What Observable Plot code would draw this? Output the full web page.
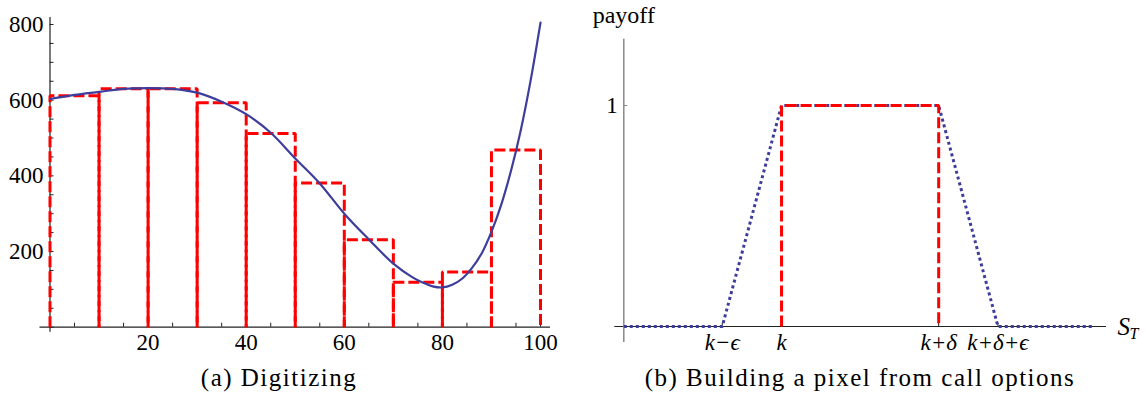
<!DOCTYPE html>
<html><head><meta charset="utf-8">
<script src="https://cdn.jsdelivr.net/npm/d3@7"></script>
<script src="https://cdn.jsdelivr.net/npm/@observablehq/plot@0.6"></script>
<style>
body{margin:0;background:#fff;}
#wrap{position:relative;width:1146px;height:393px;font-family:"Liberation Serif","Times New Roman",serif;color:#000;overflow:hidden;}
#wrap svg{position:absolute;top:0;}
#wrap svg text{font-family:"Liberation Serif","Times New Roman",serif;}
.cap{position:absolute;top:365px;font-size:25px;line-height:25px;letter-spacing:1.5px;white-space:nowrap;transform:translateX(-50%);}
</style></head><body><div id="wrap"></div>
<script>
// ---- Panel (a): digitizing ----
const binStarts = [0, 10, 20, 30, 40, 50, 60, 70, 80, 90];
const binEnds = [10, 20, 30, 40, 50, 60, 70, 80, 90, 100];
const binHeights = [612, 630, 630, 593, 512, 381, 231, 119, 146, 468];
const curveX = [0, 5, 10, 15, 20, 25, 30, 35, 40, 45, 50, 55, 60, 65, 70, 74, 76, 78, 80, 82, 84, 86, 88, 90, 92, 94, 96, 98, 100];
const curveY = [603, 614, 622, 630, 632, 630, 620, 596, 563, 514, 446, 380, 300, 232, 168, 131, 118, 108, 105, 112, 128, 156, 195, 252, 324, 414, 522, 653, 805];
const leftYTicks = [200, 400, 600, 800];
const leftXTicks = [20, 40, 60, 80, 100];
const leftYMinor = [0, 50, 100, 150, 200, 250, 300, 350, 400, 450, 500, 550, 600, 650, 700, 750, 800];
const leftXMinor = [0, 5, 10, 15, 20, 25, 30, 35, 40, 45, 50, 55, 60, 65, 70, 75, 80, 85, 90, 95, 100];

// ---- Panel (b): pixel from call options ----
const strikePositions = [1.66, 2.66, 5.31, 6.31];
const strikeLabels = ["k\u2212\u03F5", "k", "k+\u03B4", "k+\u03B4+\u03F5"];
const payoffYTicks = [1];
const approxX = [0, 1.66, 2.66, 5.31, 6.31, 7.9];
const approxY = [0, 0, 1, 1, 0, 0];
const pixelX = [2.66, 2.66, 5.31, 5.31];
const pixelY = [0, 1, 1, 0];

const captions = ["(a) Digitizing", "(b) Building a pixel from call options"];

const FONT = "Liberation Serif, Times New Roman, serif";
const BLUE = "#3d3d9c";
const RED = "#ff0000";

const barPath = binStarts.flatMap((x0, i) => [
  {x: x0, y: 0, b: i},
  {x: x0, y: binHeights[i], b: i},
  {x: binEnds[i], y: binHeights[i], b: i},
  {x: binEnds[i], y: 0, b: i}
]);
const curve = curveX.map((x, i) => ({x, y: curveY[i]}));

const left = Plot.plot({
  width: 573, height: 393,
  marginLeft: 49.5, marginRight: 33, marginTop: 24, marginBottom: 66.3,
  x: {domain: [0, 100]}, y: {domain: [0, 800]},
  style: {fontFamily: FONT, fontSize: "23px", color: "#000", background: "transparent", overflow: "visible"},
  marks: [
    Plot.ruleY([0], {stroke: "#222", strokeWidth: 1.2, insetLeft: -10, insetRight: -10}),
    Plot.ruleX([0], {stroke: "#222", strokeWidth: 1.2, insetTop: -7, insetBottom: -5}),
    Plot.ruleY(leftYMinor, {y: d => d, x1: 0, x2: 0, insetRight: -4, stroke: "#222"}),
    Plot.ruleX(leftXMinor, {x: d => d, y1: 0, y2: 0, insetTop: -4, stroke: "#222"}),
    Plot.axisY(leftYTicks, {tickSize: 0, tickPadding: 6.5, fontSize: 23, fontFamily: FONT, label: null}),
    Plot.axisX(leftXTicks, {tickSize: 0, tickPadding: 6, fontSize: 23, fontFamily: FONT, label: null}),
    Plot.line(barPath, {x: "x", y: "y", z: "b", stroke: RED, strokeWidth: 3, strokeDasharray: "11,4", strokeLinecap: "butt", strokeLinejoin: "miter"}),
    Plot.line(curve, {x: "x", y: "y", stroke: BLUE, strokeWidth: 2.2, curve: "catmull-rom"})
  ]
});

const approx = approxX.map((x, i) => ({x, y: approxY[i]}));
const pixel = pixelX.map((x, i) => ({x, y: pixelY[i]}));

const right = Plot.plot({
  width: 573, height: 393,
  marginLeft: 50.3, marginRight: 40, marginTop: 38.7, marginBottom: 67,
  x: {domain: [0, 8.14]}, y: {domain: [0, 1.3]},
  style: {fontFamily: FONT, fontSize: "23px", color: "#000", background: "transparent", overflow: "visible"},
  marks: [
    Plot.ruleY([0], {stroke: "#222", strokeWidth: 1.2, insetLeft: -9}),
    Plot.ruleX([0], {stroke: "#888", strokeWidth: 1.5, insetBottom: -16}),
    Plot.ruleY(payoffYTicks, {y: d => d, x1: 0, x2: 0, insetRight: -4, stroke: "#888"}),
    Plot.ruleX(strikePositions, {x: d => d, y1: 0, y2: 0, insetTop: -3, stroke: "#222"}),
    Plot.axisY(payoffYTicks, {tickSize: 0, tickPadding: 6, fontSize: 23, fontFamily: FONT, tickFormat: d => `${d}`, label: null}),
    Plot.axisX(strikePositions, {tickSize: 0, tickPadding: 7, fontSize: 23, fontFamily: FONT, fontStyle: "italic",
      tickFormat: d => strikeLabels[strikePositions.indexOf(d)], label: null}),
    Plot.line(approx, {x: "x", y: "y", stroke: BLUE, strokeWidth: 3, strokeDasharray: "3,3", strokeLinecap: "butt"}),
    Plot.line(pixel, {x: "x", y: "y", stroke: RED, strokeWidth: 3, strokeDasharray: "11,4", strokeLinecap: "butt", strokeLinejoin: "miter"}),
    Plot.text(["payoff"], {frameAnchor: "top-left", text: d => d, dy: -16, lineAnchor: "bottom", textAnchor: "middle", fontSize: 24, fontFamily: FONT}),
    Plot.text(["S"], {frameAnchor: "bottom-right", text: d => d, dx: 11, textAnchor: "start", lineAnchor: "middle", fontStyle: "italic", fontSize: 25, fontFamily: FONT}),
    Plot.text(["T"], {frameAnchor: "bottom-right", text: d => d, dx: 23, dy: 7, textAnchor: "start", lineAnchor: "middle", fontStyle: "italic", fontSize: 16, fontFamily: FONT})
  ]
});

const wrap = document.getElementById("wrap");
for (const svg of [left, right]) {
  svg.setAttribute("font-family", FONT);
  svg.querySelectorAll("text").forEach(t => t.setAttribute("font-family", FONT));
}
left.style.left = "0px";
right.style.left = "573px";
wrap.appendChild(left);
wrap.appendChild(right);

const capCenters = [279, 860];
captions.forEach((t, i) => {
  const d = document.createElement("div");
  d.className = "cap";
  d.style.left = capCenters[i] + "px";
  d.textContent = t;
  wrap.appendChild(d);
});
</script>
</body></html>
